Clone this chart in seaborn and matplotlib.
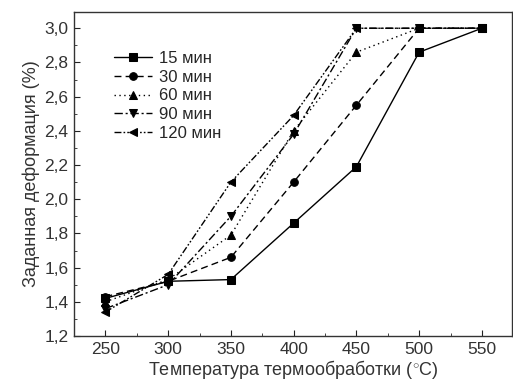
import matplotlib
matplotlib.use("Agg")
import matplotlib.pyplot as plt
import seaborn as sns
import pandas as pd
from matplotlib.ticker import MultipleLocator, FuncFormatter

temps = [250, 300, 350, 400, 450, 500, 550]
series_names = ["15 мин", "30 мин", "60 мин", "90 мин", "120 мин"]
v15 = [1.42, 1.52, 1.53, 1.86, 2.19, 2.86, 3.0]
v30 = [1.43, 1.52, 1.66, 2.10, 2.55, 3.0, 3.0]
v60 = [1.40, 1.53, 1.79, 2.40, 2.86, 3.0, 3.0]
v90 = [1.36, 1.50, 1.90, 2.38, 3.0, 3.0, 3.0]
v120 = [1.34, 1.56, 2.10, 2.49, 3.0, 3.0, 3.0]
all_vals = [v15, v30, v60, v90, v120]

rows = []
for name, vals in zip(series_names, all_vals):
    for t, v in zip(temps, vals):
        rows.append({"T": t, "val": v, "series": name})
df = pd.DataFrame(rows)

sns.set_style("ticks")
plt.rcParams["font.family"] = ["Liberation Sans", "DejaVu Sans"]
plt.rcParams["mathtext.fontset"] = "custom"
plt.rcParams["mathtext.rm"] = "Liberation Sans"

fig = plt.figure(figsize=(5.13, 3.85), dpi=100)
ax = fig.add_axes([74/513, 1-336/385, (512-74)/513, (336-12)/385])

dashes = ["", (5, 3), (1, 2.5), (6, 2, 1.5, 2), (5, 1.5, 1.2, 1.5, 1.2, 1.5)]
markers = ["s", "o", "^", "v", "<"]
sns.lineplot(data=df, x="T", y="val", style="series", hue="series",
             palette=["black"] * 5, dashes=dashes, markers=markers,
             markersize=5.5, linewidth=1.0, markeredgecolor="black", ax=ax)

ax.set_xlim(225, 574)
ax.set_ylim(1.2, 3.095)
ax.xaxis.set_major_locator(MultipleLocator(50))
ax.xaxis.set_minor_locator(MultipleLocator(25))
ax.yaxis.set_major_locator(MultipleLocator(0.2))
ax.yaxis.set_minor_locator(MultipleLocator(0.1))
ax.yaxis.set_major_formatter(FuncFormatter(lambda v, p: f"{v:.1f}".replace(".", ",")))
ax.tick_params(which="both", direction="in", top=False, right=False)
ax.tick_params(which="major", length=4, labelsize=12.5, colors="#222222",
               labelcolor="#333333", pad=4)
ax.tick_params(which="minor", length=2.5)
for s in ax.spines.values():
    s.set_linewidth(1.0)
    s.set_color("#333333")

ax.set_xlabel("Температура термообработки ($^{\\circ}$C)", fontsize=13,
              color="#333333", labelpad=1)
ax.set_ylabel("Заданная деформация (%)", fontsize=13, color="#333333", labelpad=3)

leg = ax.legend(loc="upper left", bbox_to_anchor=(0.075, 0.90), frameon=False,
                handlelength=2.3, handletextpad=0.45, labelspacing=0.22,
                fontsize=12, borderaxespad=0)

fig.savefig("out.png", dpi=100)
